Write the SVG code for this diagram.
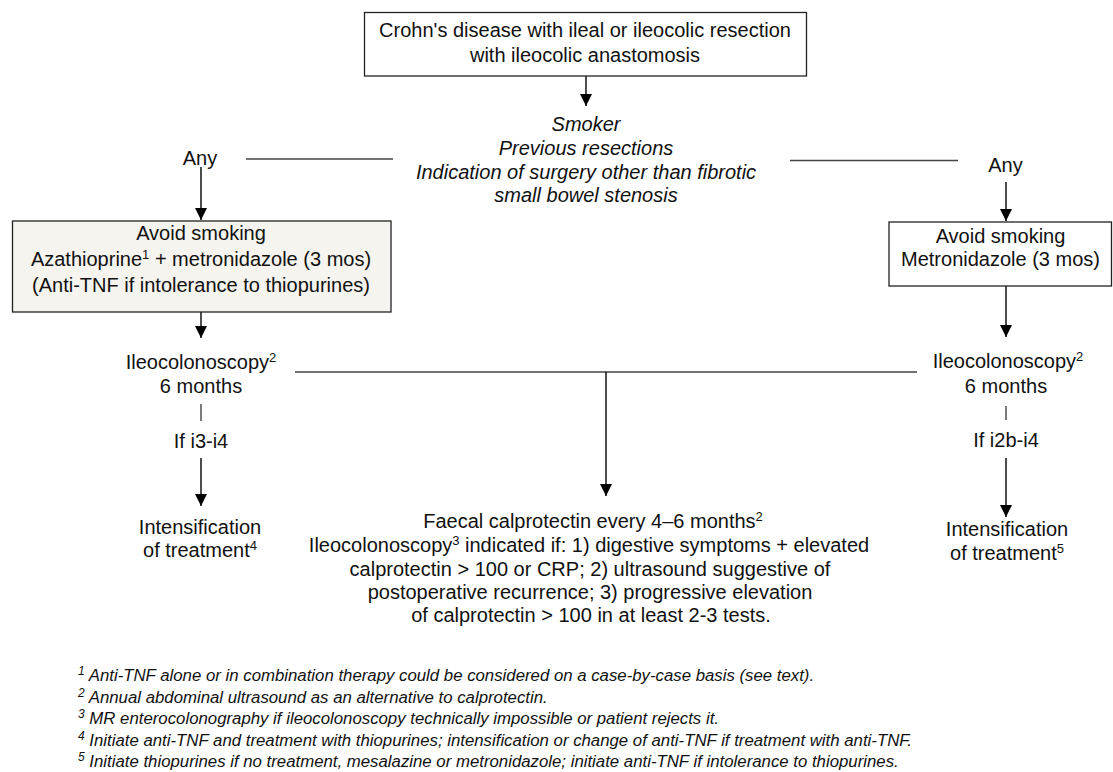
<svg xmlns="http://www.w3.org/2000/svg" width="1113" height="772" viewBox="0 0 1113 772">
<defs>
<marker id="ah" viewBox="0 0 12 12" refX="12" refY="6" markerWidth="12" markerHeight="12" markerUnits="userSpaceOnUse" orient="auto">
<path d="M0,0 L12,6 L0,12 Z" fill="#000"/>
</marker>
<style>
text{font-family:"Liberation Sans",Arial,sans-serif;font-size:20px;fill:#111;text-anchor:middle}
.it{font-style:italic}
.fn{font-style:italic;font-size:16.8px;text-anchor:start}
.box{fill:#fff;stroke:#222;stroke-width:1.3}
.beige{fill:#f6f4ee}
.arr{stroke:#000;stroke-width:1.4;fill:none;marker-end:url(#ah)}
.ln{stroke:#444;stroke-width:1.4;fill:none}
.sup{font-size:13px}
.fsup{font-size:12px}
</style>
</defs>
<rect width="1113" height="772" fill="#fff"/>
<g id="connectors">
<path class="arr" d="M586,76 V106"/>
<path class="ln" d="M246,159 H393"/>
<path class="ln" d="M790,160.5 H958"/>
<path class="arr" d="M201,167 V220"/>
<path class="arr" d="M1006,182 V221"/>
<path class="arr" d="M201,312 V338"/>
<path class="arr" d="M1006,286 V337"/>
<path class="ln" d="M295,372 H917"/>
<path class="arr" d="M606,372 V496"/>
<path class="ln" d="M201,404 V421"/>
<path class="arr" d="M201,458 V506"/>
<path class="ln" d="M1006,406 V420"/>
<path class="arr" d="M1006,458 V517"/>
</g>
<g id="n_start">
<rect class="box" x="364.5" y="12.5" width="442" height="63.5"/>
<text x="585" y="37">Crohn's disease with ileal or ileocolic resection</text>
<text x="585" y="62">with ileocolic anastomosis</text>
</g>
<g id="n_criteria">
<text class="it" x="586" y="131">Smoker</text>
<text class="it" x="586" y="155">Previous resections</text>
<text class="it" x="586" y="179">Indication of surgery other than fibrotic</text>
<text class="it" x="586" y="202">small bowel stenosis</text>
</g>
<g id="n_any_left"><text x="200" y="165">Any</text></g>
<g id="n_any_right"><text x="1005.5" y="172">Any</text></g>
<g id="n_left_tx">
<rect class="box beige" x="12.5" y="221" width="378.5" height="91"/>
<text x="201" y="240">Avoid smoking</text>
<text x="201" y="266">Azathioprine<tspan class="sup" dy="-7">1</tspan><tspan dy="7"> + metronidazole (3 mos)</tspan></text>
<text x="201" y="292">(Anti-TNF if intolerance to thiopurines)</text>
</g>
<g id="n_right_tx">
<rect class="box" x="889" y="222" width="222.5" height="64"/>
<text x="1000.5" y="243">Avoid smoking</text>
<text x="1000.5" y="266">Metronidazole (3 mos)</text>
</g>
<g id="n_left_ileo">
<text x="201" y="369">Ileocolonoscopy<tspan class="sup" dy="-7">2</tspan></text>
<text x="201" y="393">6 months</text>
</g>
<g id="n_left_if"><text x="201" y="448">If i3-i4</text></g>
<g id="n_right_ileo">
<text x="1008" y="368">Ileocolonoscopy<tspan class="sup" dy="-7">2</tspan></text>
<text x="1006" y="393">6 months</text>
</g>
<g id="n_right_if"><text x="1006" y="447">If i2b-i4</text></g>
<g id="n_left_int">
<text x="200" y="534">Intensification</text>
<text x="200" y="557">of treatment<tspan class="sup" dy="-7">4</tspan></text>
</g>
<g id="n_right_int">
<text x="1007" y="536">Intensification</text>
<text x="1007" y="560">of treatment<tspan class="sup" dy="-7">5</tspan></text>
</g>
<g id="n_middle">
<text x="593" y="528">Faecal calprotectin every 4–6 months<tspan class="sup" dy="-7">2</tspan></text>
<text x="589" y="552">Ileocolonoscopy<tspan class="sup" dy="-7">3</tspan><tspan dy="7"> indicated if: 1) digestive symptoms + elevated</tspan></text>
<text x="590" y="576">calprotectin &gt; 100 or CRP; 2) ultrasound suggestive of</text>
<text x="590" y="599">postoperative recurrence; 3) progressive elevation</text>
<text x="591" y="622">of calprotectin &gt; 100 in at least 2-3 tests.</text>
</g>
<g id="footnotes">
<text class="fn" x="78" y="681"><tspan class="fsup" dy="-6">1</tspan><tspan dy="6"> Anti-TNF alone or in combination therapy could be considered on a case-by-case basis (see text).</tspan></text>
<text class="fn" x="78" y="703"><tspan class="fsup" dy="-6">2</tspan><tspan dy="6"> Annual abdominal ultrasound as an alternative to calprotectin.</tspan></text>
<text class="fn" x="78" y="724"><tspan class="fsup" dy="-6">3</tspan><tspan dy="6"> MR enterocolonography if ileocolonoscopy technically impossible or patient rejects it.</tspan></text>
<text class="fn" x="78" y="746"><tspan class="fsup" dy="-6">4</tspan><tspan dy="6"> Initiate anti-TNF and treatment with thiopurines; intensification or change of anti-TNF if treatment with anti-TNF.</tspan></text>
<text class="fn" x="78" y="767"><tspan class="fsup" dy="-6">5</tspan><tspan dy="6"> Initiate thiopurines if no treatment, mesalazine or metronidazole; initiate anti-TNF if intolerance to thiopurines.</tspan></text>
</g>
</svg>
